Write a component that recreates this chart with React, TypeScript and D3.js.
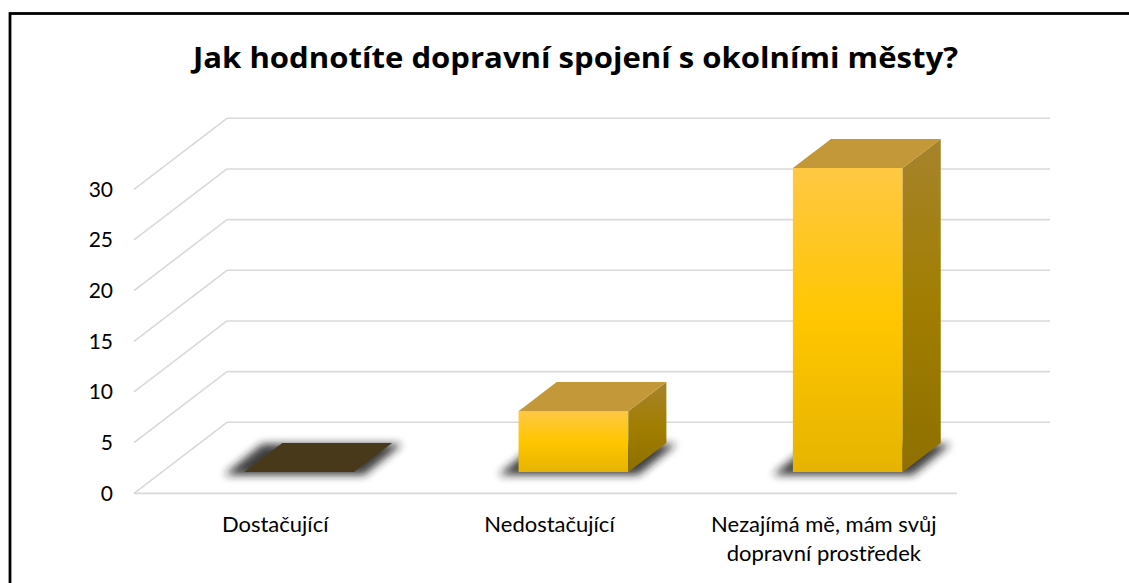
import React from "react";
import * as d3 from "d3";

const title = "Jak hodnotíte dopravní spojení s okolními městy?";
const categories = ["Dostačující", "Nedostačující", "Nezajímá mě, mám svůj dopravní prostředek"];
const categoryLines = [["Dostačující"], ["Nedostačující"], ["Nezajímá mě, mám svůj", "dopravní prostředek"]];
const values = [0, 6, 30];
const yTicks = [0, 5, 10, 15, 20, 25, 30];

const W = 1129;
const H = 583;
const FONT = "Lato, 'Open Sans', sans-serif";

export default function App() {
  // front plane of the 3D box
  const x = d3.scaleBand<string>().domain(categories).range([134, 957]).paddingInner(0).paddingOuter(0);
  const y = d3.scaleLinear().domain([0, 30]).range([493.3, 189.3]);
  const DX = 93;
  const DY = 71;
  const f0 = 0.3;
  const f1 = 0.71;
  const bw = x.bandwidth() * 0.4;
  const ddx = DX * (f1 - f0);
  const ddy = DY * (f1 - f0);
  const grid = "#D9D9D9";
  const pt = (a: number[][]) => a.map((p) => p.join(",")).join(" ");

  return (
    <svg width={W} height={H} style={{ position: "absolute", left: 0, top: 0, overflow: "hidden" }}>
      <defs>
        <linearGradient id="front" x1="0" y1="0" x2="0" y2="1">
          <stop offset="0" stopColor="#FFC843" />
          <stop offset="0.5" stopColor="#FFC600" />
          <stop offset="1" stopColor="#E6B400" />
        </linearGradient>
        <linearGradient id="side" x1="0" y1="0" x2="0" y2="1">
          <stop offset="0" stopColor="#A6832C" />
          <stop offset="0.5" stopColor="#A17E00" />
          <stop offset="1" stopColor="#8F7000" />
        </linearGradient>
        <filter id="blur" x="-30%" y="-60%" width="160%" height="220%">
          <feGaussianBlur stdDeviation="4" />
        </filter>
      </defs>
      <rect x={0} y={0} width={W} height={H} fill="#fff" />

      {/* gridlines */}
      {yTicks.map((t) => (
        <g key={"g" + t}>
          <line x1={x.range()[0]} y1={y(t)} x2={x.range()[0] + DX} y2={y(t) - DY} stroke={grid} strokeWidth={1.6} />
          <line x1={x.range()[0] + DX} y1={y(t) - DY} x2={x.range()[1] + DX} y2={y(t) - DY} stroke={grid} strokeWidth={1.6} />
        </g>
      ))}
      <line x1={x.range()[0]} y1={y(0)} x2={x.range()[1]} y2={y(0)} stroke={grid} strokeWidth={1.8} />

      {/* shadows */}
      {categories.map((c, i) => {
        const fx0 = (x(c) as number) + (x.bandwidth() - bw) / 2 + DX * f0;
        const fx1 = fx0 + bw;
        const by = y(0) - DY * f0;
        const e = 15;
        const sx = -5;
        const sy = 3;
        return (
          <polygon
            key={"s" + i}
            points={pt([
              [fx0 - e + sx, by + sy],
              [fx1 + e + sx, by + sy],
              [fx1 + ddx + e + sx, by - ddy + sy - 2],
              [fx0 + ddx - e + sx, by - ddy + sy - 2],
            ])}
            fill="#1e1e1e"
            opacity={0.85}
            filter="url(#blur)"
          />
        );
      })}

      {/* bars */}
      {categories.map((c, i) => {
        const v = values[i];
        const fx0 = (x(c) as number) + (x.bandwidth() - bw) / 2 + DX * f0;
        const fx1 = fx0 + bw;
        const by = y(0) - DY * f0;
        const ty = y(v) - DY * f0;
        const topFill = v === 0 ? "#47391A" : "#C39838";
        return (
          <g key={"b" + i}>
            {v > 0 && <rect x={fx0} y={ty} width={bw} height={by - ty} fill="url(#front)" />}
            {v > 0 && (
              <polygon points={pt([[fx1, ty], [fx1 + ddx, ty - ddy], [fx1 + ddx, by - ddy], [fx1, by]])} fill="url(#side)" />
            )}
            <polygon points={pt([[fx0, ty], [fx1, ty], [fx1 + ddx, ty - ddy], [fx0 + ddx, ty - ddy]])} fill={topFill} />
          </g>
        );
      })}

      {/* y axis labels */}
      {yTicks.map((t) => (
        <text key={"t" + t} x={113} y={y(t) + 7.5} textAnchor="end" fontFamily={FONT} fontSize={21} fill="#000">
          {t}
        </text>
      ))}

      {/* category labels */}
      {categories.map((c, i) => (
        <text key={"c" + i} textAnchor="middle" fontFamily={FONT} fontSize={22} fill="#000">
          {categoryLines[i].map((ln, j) => (
            <tspan key={j} x={(x(c) as number) + x.bandwidth() / 2 + 4} y={532 + j * 28.5}>
              {ln}
            </tspan>
          ))}
        </text>
      ))}

      {/* title */}
      <text x={575.5} y={68} textAnchor="middle" fontFamily="'Open Sans', Lato, sans-serif" fontWeight="bold" fontSize={28.5} fill="#000" textLength={765} lengthAdjust="spacingAndGlyphs">
        {title}
      </text>

      {/* border */}
      <rect x={10} y={13.5} width={1300} height={800} fill="none" stroke="#000" strokeWidth={2.8} />
    </svg>
  );
}
